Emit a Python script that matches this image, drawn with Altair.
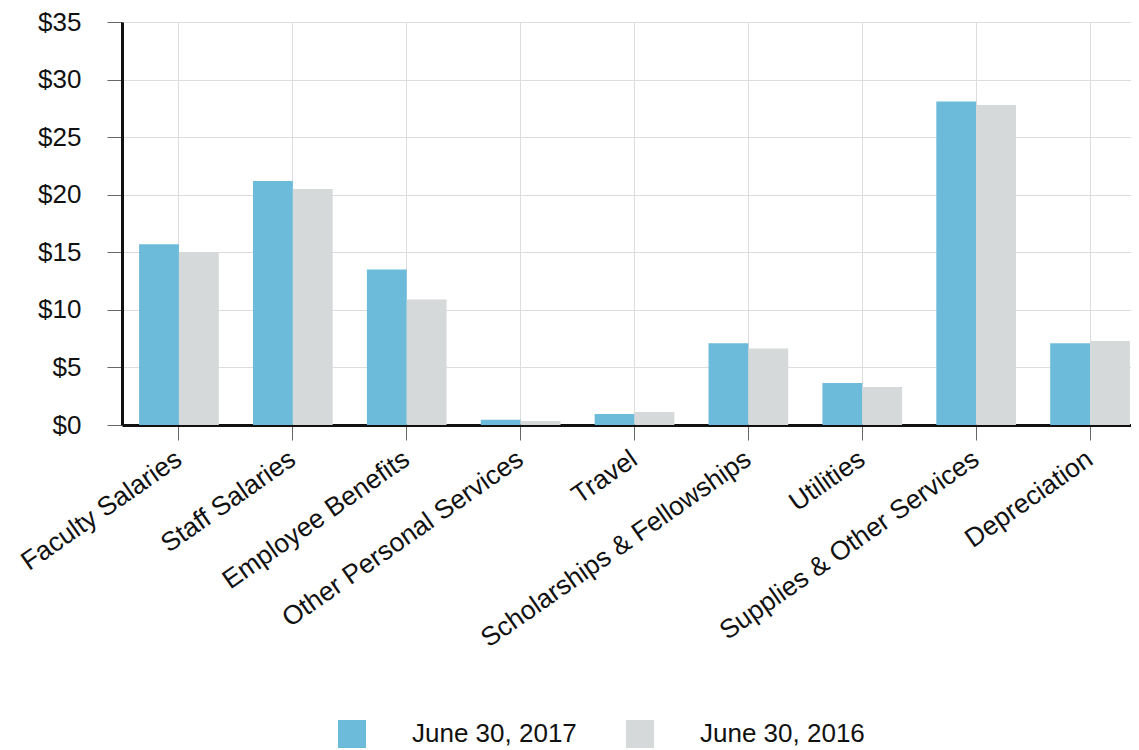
import altair as alt
import pandas as pd

categories = ["Faculty Salaries", "Staff Salaries", "Employee Benefits",
              "Other Personal Services", "Travel", "Scholarships & Fellowships",
              "Utilities", "Supplies & Other Services", "Depreciation"]
series_names = ["June 30, 2017", "June 30, 2016"]
values_2017 = [15.7, 21.2, 13.5, 0.45, 0.95, 7.1, 3.65, 28.1, 7.1]
values_2016 = [15.0, 20.5, 10.9, 0.35, 1.12, 6.65, 3.3, 27.8, 7.3]
colors = ["#6cbbda", "#d6d9da"]

rows = []
for c, a, b in zip(categories, values_2017, values_2016):
    rows.append({"Category": c, "Series": series_names[0], "Value": a})
    rows.append({"Category": c, "Series": series_names[1], "Value": b})
df = pd.DataFrame(rows)

font = "Liberation Sans"
fs = 26

chart = alt.Chart(df).mark_bar().encode(
    x=alt.X("Category:N", sort=categories, title=None,
            scale=alt.Scale(paddingInner=0.3, paddingOuter=0.15, range=[0, 1025]),
            axis=alt.Axis(bandPosition=0.5, grid=True, gridColor="#dddddd",
                          labelAngle=-35, labelAlign="right", labelBaseline="middle",
                          labelFontSize=26.5, labelFont=font, labelColor="#111111",
                          labelPadding=16, tickSize=15, tickColor="#666666",
                          domainColor="#111111", domainWidth=3, labelLimit=500)),
    xOffset=alt.XOffset("Series:N", sort=series_names),
    y=alt.Y("Value:Q", title=None,
            scale=alt.Scale(domain=[0, 35], nice=False),
            axis=alt.Axis(values=[0, 5, 10, 15, 20, 25, 30, 35], grid=True,
                          gridColor="#dddddd", labelExpr="'$' + datum.value",
                          labelFontSize=fs, labelFont=font, labelColor="#111111",
                          labelPadding=26, tickSize=15, tickColor="#666666",
                          domainColor="#111111", domainWidth=3)),
    color=alt.Color("Series:N", sort=series_names,
                    scale=alt.Scale(domain=series_names, range=colors),
                    legend=alt.Legend(title=None, orient="none", legendX=216, legendY=698,
                                      direction="horizontal", symbolType="square",
                                      symbolSize=784, symbolStrokeWidth=0,
                                      labelFontSize=fs, labelFont=font, labelLimit=400,
                                      labelColor="#111111", labelOffset=46,
                                      columnPadding=49, padding=0)),
).properties(
    width=1009, height=403,
    autosize=alt.AutoSizeParams(type="none"),
    padding={"left": 114, "top": 14, "right": 0, "bottom": 325},
).configure_view(stroke=None)

chart.save("out.html", embed_options={"renderer": "svg", "actions": False})
